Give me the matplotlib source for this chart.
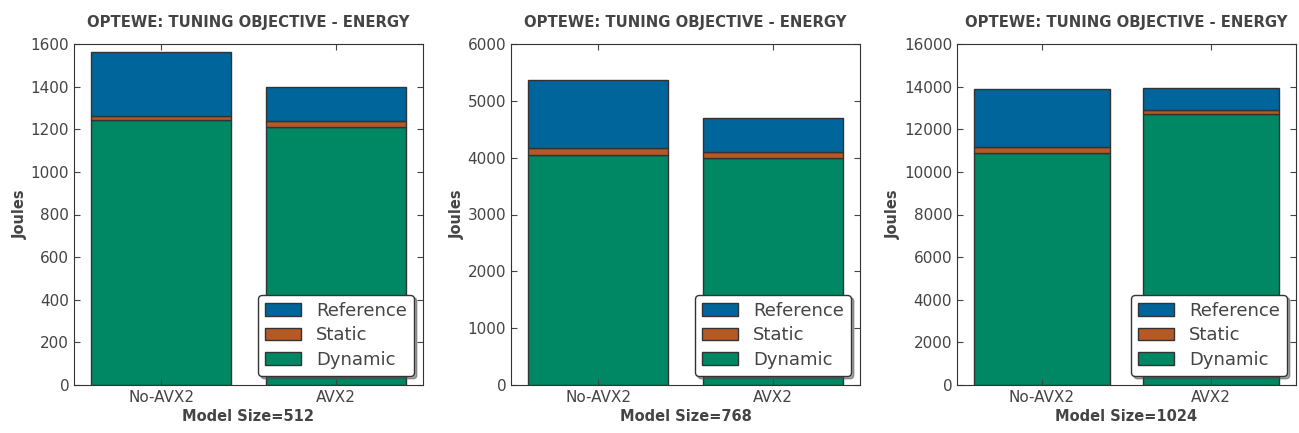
import matplotlib
matplotlib.use("Agg")
import matplotlib.pyplot as plt
import numpy as np

categories = ["No-AVX2", "AVX2"]
model_sizes = [512, 768, 1024]

dynamic = [[1243, 1210], [4055, 4000], [10900, 12700]]
static = [[20, 31], [120, 105], [270, 200]]
reference = [[300, 155], [1190, 595], [2700, 1050]]
ymax = [1600, 6000, 16000]

c_ref = "#00659a"
c_static = "#b55a27"
c_dyn = "#008764"
txt = "#444444"

plt.rcParams["font.family"] = ["DejaVu Sans"]
plt.rcParams["text.color"] = txt
plt.rcParams["axes.labelcolor"] = txt
plt.rcParams["xtick.color"] = txt
plt.rcParams["ytick.color"] = txt

fig = plt.figure(figsize=(12.99, 4.33), dpi=100)
W, H = 1299.0, 433.0
lefts = [74, 511, 957]
rights = [423, 860, 1296]
top, bottom = 44, 385

for i in range(3):
    ax = fig.add_axes([lefts[i] / W, 1 - bottom / H, (rights[i] - lefts[i]) / W, (bottom - top) / H])
    x = np.arange(len(categories))
    d = np.array(dynamic[i])
    s = np.array(static[i])
    r = np.array(reference[i])
    b1 = ax.bar(x, d, 0.8, color=c_dyn, edgecolor="#333333", linewidth=1, label="Dynamic")
    b2 = ax.bar(x, s, 0.8, bottom=d, color=c_static, edgecolor="#333333", linewidth=1, label="Static")
    b3 = ax.bar(x, r, 0.8, bottom=d + s, color=c_ref, edgecolor="#333333", linewidth=1, label="Reference")
    ax.set_xlim(-0.5, 1.5)
    ax.set_ylim(0, ymax[i])
    ax.set_xticks(x)
    ax.set_xticklabels(categories)
    ax.tick_params(direction="in", top=True, right=True, labelsize=11, length=4)
    for sp in ax.spines.values():
        sp.set_color("#333333")
    ax.set_title("OPTEWE: TUNING OBJECTIVE - ENERGY", fontsize=10.7, fontweight="bold", pad=12)
    ax.set_xlabel("Model Size=%d" % model_sizes[i], fontsize=10.5, fontweight="bold", labelpad=3)
    ax.set_ylabel("Joules", fontsize=10.5, fontweight="bold", labelpad=2)
    leg = ax.legend([b3, b2, b1], ["Reference", "Static", "Dynamic"], loc="lower right",
                    fontsize=13, shadow=True, fancybox=True, framealpha=1,
                    borderaxespad=0.5, handlelength=2.0, labelspacing=0.35)
    leg.get_frame().set_edgecolor("#333333")

fig.savefig("out.png", dpi=100)
